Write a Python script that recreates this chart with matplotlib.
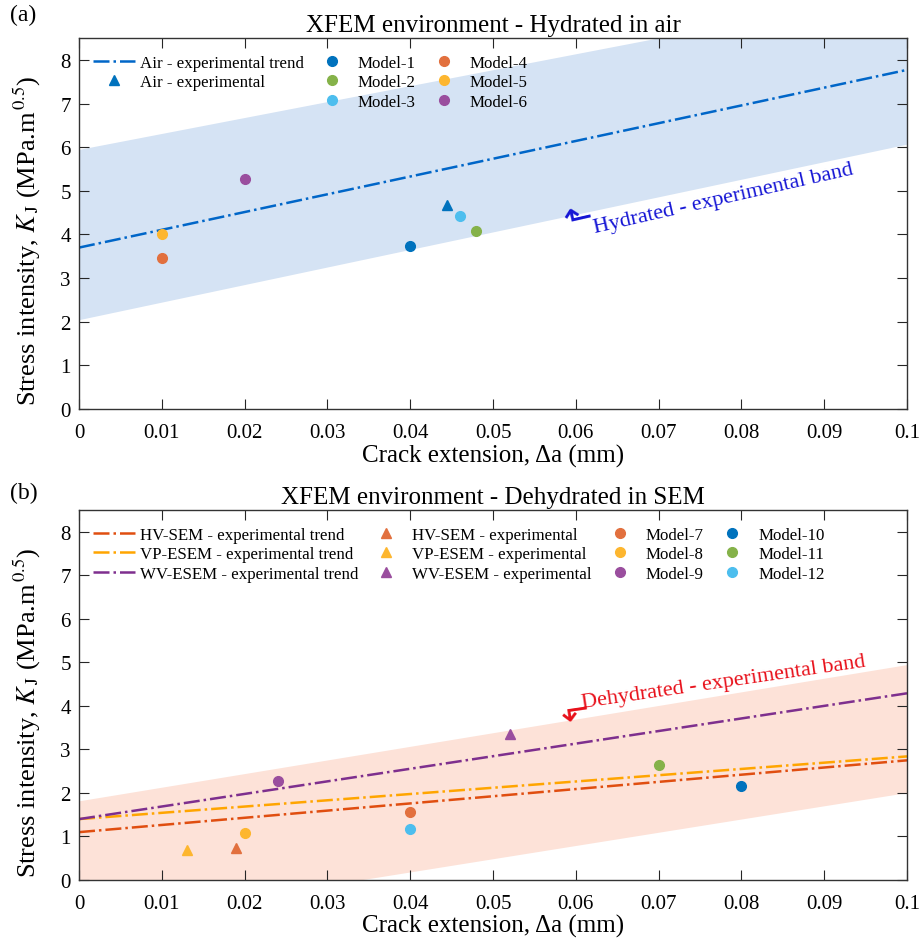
import matplotlib.pyplot as plt
from matplotlib.lines import Line2D

plt.rcParams['font.family'] = ['Liberation Serif', 'DejaVu Serif', 'DejaVu Sans']
plt.rcParams['mathtext.fontset'] = 'stix'

# --- panel (a): hydrated in air ---
band_x = [0.0, 0.1]
hyd_lower = [2.05, 6.07]
hyd_upper = [5.95, 9.60]
air_trend = [3.70, 7.77]
air_exp_x = [0.0445]
air_exp_y = [4.68]
models_a = ['Model-1', 'Model-2', 'Model-3', 'Model-4', 'Model-5', 'Model-6']
models_a_x = [0.040, 0.048, 0.046, 0.010, 0.010, 0.020]
models_a_y = [3.73, 4.07, 4.42, 3.46, 4.02, 5.28]

# --- panel (b): dehydrated in SEM ---
deh_lower = [-1.03, 2.01]
deh_upper = [1.82, 4.95]
trend_names = ['HV-SEM', 'VP-ESEM', 'WV-ESEM']
trend_start = [1.10, 1.40, 1.40]
trend_end = [2.75, 2.84, 4.29]
exp_x = [0.019, 0.013, 0.052]
exp_y = [0.73, 0.69, 3.35]
models_b = ['Model-7', 'Model-8', 'Model-9', 'Model-10', 'Model-11', 'Model-12']
models_b_x = [0.040, 0.020, 0.024, 0.080, 0.070, 0.040]
models_b_y = [1.57, 1.09, 2.27, 2.17, 2.64, 1.17]

# colours (MATLAB-like)
c_blue = '#0072BD'
c_orange = '#E2703E'
c_yellow = '#FDB62F'
c_purple = '#9A4E9E'
c_green = '#85B249'
c_cyan = '#4DBEEE'
cols_a = [c_blue, c_green, c_cyan, c_orange, c_yellow, c_purple]
cols_b = [c_orange, c_yellow, c_purple, c_blue, c_green, c_cyan]
trend_cols = ['#E04E10', '#FFA500', '#7E2F8E']
exp_cols = [c_orange, c_yellow, c_purple]

fig = plt.figure(figsize=(9.21, 9.45), dpi=100)
ax1 = fig.add_axes([0.0858, 0.566, 0.899, 0.3927])
ax2 = fig.add_axes([0.0858, 0.0677, 0.899, 0.3915])

FS_TICK = 15
FS_LAB = 18
FS_LEG = 12.2
leg_kw = dict(frameon=False, fontsize=FS_LEG, loc='upper left',
              bbox_to_anchor=(0.0, 0.992), handlelength=2.48, handletextpad=0.3,
              columnspacing=0.42, labelspacing=0.22, borderaxespad=0.4)


def style(ax, title):
    ax.set_xlim(0, 0.1)
    ax.set_ylim(0, 8.5)
    ax.set_xticks([0, 0.01, 0.02, 0.03, 0.04, 0.05, 0.06, 0.07, 0.08, 0.09, 0.1])
    ax.set_xticklabels(['0', '0.01', '0.02', '0.03', '0.04', '0.05', '0.06',
                        '0.07', '0.08', '0.09', '0.1'])
    ax.set_yticks(range(0, 9))
    ax.tick_params(direction='in', top=True, right=True, length=7,
                   labelsize=FS_TICK, color='#262626')
    ax.tick_params(axis='x', pad=10)
    ax.tick_params(axis='y', pad=6)
    for s in ax.spines.values():
        s.set_color('#333333')
        s.set_linewidth(1.0)
    ax.set_xlabel('Crack extension, Δa (mm)', fontsize=FS_LAB, labelpad=1)
    ax.set_ylabel(r'Stress intensity, $K_{\,\mathrm{J}}$ (MPa.m$^{\,0.5}$)',
                  fontsize=19)
    ax.yaxis.set_label_coords(-0.043, 0.455)
    ax.set_title(title, fontsize=FS_LAB, pad=5)


# panel (a)
ax1.fill_between(band_x, hyd_lower, hyd_upper, color='#D5E3F4', lw=0, zorder=0)
l_air, = ax1.plot(band_x, air_trend, '-.', color='#0066C8', lw=1.8)
t_air, = ax1.plot(air_exp_x, air_exp_y, '^', color=c_blue, ms=7, ls='none')
hs_a = []
for name, x, y, c in zip(models_a, models_a_x, models_a_y, cols_a):
    h, = ax1.plot([x], [y], 'o', color=c, ms=7, ls='none')
    hs_a.append(h)
blank = Line2D([], [], ls='none', marker='none')
ax1.legend([l_air, t_air, blank] + hs_a,
           ['Air - experimental trend', 'Air - experimental', ''] + models_a,
           ncol=3, **leg_kw)
ax1.text(0.0589, 4.08, '⬑', color='#1515D5', fontsize=25, rotation=12.8,
         rotation_mode='anchor', ha='left', va='baseline', family='DejaVu Sans')
ax1.text(0.0623, 4.06, 'Hydrated - experimental band', color='#1515D5',
         fontsize=16, rotation=12.8, rotation_mode='anchor',
         ha='left', va='baseline')
style(ax1, 'XFEM environment - Hydrated in air')

# panel (b)
ax2.fill_between(band_x, deh_lower, deh_upper, color='#FDE2D8', lw=0, zorder=0)
lines_b = []
for name, y0, y1, c in zip(trend_names, trend_start, trend_end, trend_cols):
    h, = ax2.plot(band_x, [y0, y1], '-.', color=c, lw=1.8)
    lines_b.append(h)
tris_b = []
for x, y, c in zip(exp_x, exp_y, exp_cols):
    h, = ax2.plot([x], [y], '^', color=c, ms=7, ls='none')
    tris_b.append(h)
hs_b = []
for name, x, y, c in zip(models_b, models_b_x, models_b_y, cols_b):
    h, = ax2.plot([x], [y], 'o', color=c, ms=7, ls='none')
    hs_b.append(h)
ax2.legend(lines_b + tris_b + hs_b,
           [n + ' - experimental trend' for n in trend_names]
           + [n + ' - experimental' for n in trend_names] + models_b,
           ncol=4, **leg_kw)
ax2.text(0.0583, 3.66, '⬐', color='#E8101A', fontsize=25, rotation=8.3,
         rotation_mode='anchor', ha='left', va='baseline', family='DejaVu Sans')
ax2.text(0.0608, 3.97, 'Dehydrated - experimental band', color='#E8101A',
         fontsize=16, rotation=8.3, rotation_mode='anchor',
         ha='left', va='baseline')
style(ax2, 'XFEM environment - Dehydrated in SEM')

fig.text(0.011, 0.984, '(a)', fontsize=17, va='center')
fig.text(0.011, 0.478, '(b)', fontsize=17, va='center')

fig.savefig('out.png', dpi=100)
